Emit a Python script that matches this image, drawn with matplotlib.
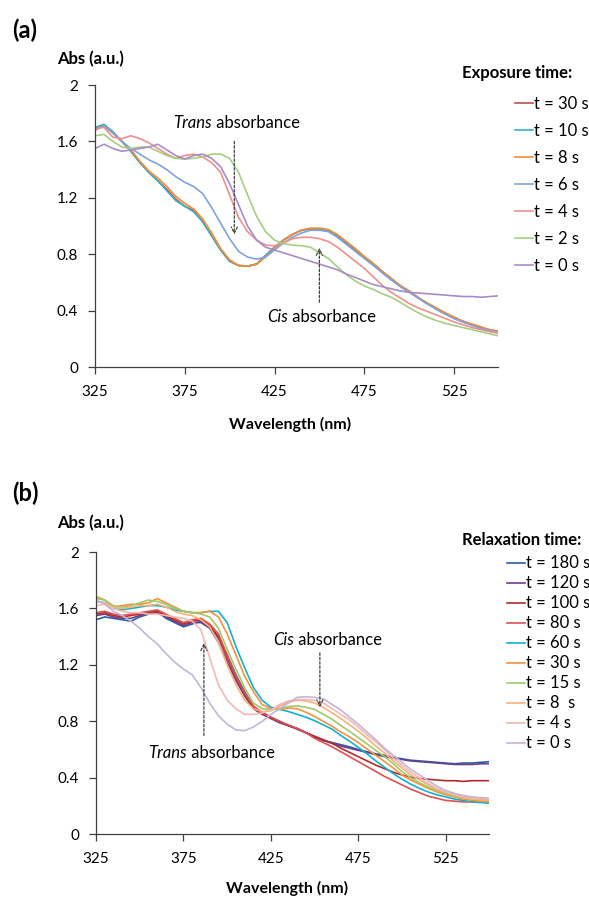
import matplotlib
matplotlib.use("Agg")
import matplotlib.pyplot as plt

plt.rcParams['font.family'] = ['Lato', 'DejaVu Sans']
plt.rcParams['font.size'] = 11

# --- Wellenlaengen-Raster (nm) ---
wl = [325, 330, 335, 340, 345, 350, 355, 360, 365, 370,
      375, 380, 385, 390, 395, 400, 405, 410, 415, 420,
      425, 430, 435, 440, 445, 450, 455, 460, 465, 470,
      475, 480, 485, 490, 495, 500, 505, 510, 515, 520,
      525, 530, 535, 540, 545, 550]

# --- (a) Belichtungszeit ---
a_labels = ['t = 30 s', 't = 10 s', 't = 8 s', 't = 6 s', 't = 4 s', 't = 2 s', 't = 0 s']
a_30 = [1.69, 1.72, 1.66, 1.60, 1.53, 1.45, 1.38, 1.32, 1.26, 1.19,
        1.14, 1.11, 1.03, 0.93, 0.83, 0.75, 0.72, 0.715, 0.73, 0.79,
        0.85, 0.90, 0.94, 0.97, 0.98, 0.98, 0.97, 0.93, 0.88, 0.83,
        0.78, 0.73, 0.67, 0.62, 0.575, 0.535, 0.49, 0.45, 0.415, 0.38,
        0.345, 0.32, 0.30, 0.275, 0.26, 0.25]
a_10 = [1.70, 1.72, 1.67, 1.60, 1.53, 1.45, 1.38, 1.32, 1.25, 1.18,
        1.14, 1.10, 1.03, 0.93, 0.83, 0.75, 0.72, 0.715, 0.73, 0.79,
        0.85, 0.90, 0.94, 0.97, 0.98, 0.98, 0.97, 0.935, 0.885, 0.835,
        0.78, 0.73, 0.675, 0.62, 0.575, 0.535, 0.49, 0.45, 0.415, 0.38,
        0.35, 0.325, 0.30, 0.28, 0.26, 0.25]
a_8 = [1.68, 1.71, 1.66, 1.60, 1.54, 1.46, 1.39, 1.34, 1.28, 1.21,
       1.16, 1.12, 1.05, 0.95, 0.84, 0.76, 0.72, 0.715, 0.73, 0.78,
       0.84, 0.90, 0.94, 0.97, 0.985, 0.985, 0.975, 0.94, 0.89, 0.84,
       0.785, 0.735, 0.68, 0.63, 0.58, 0.54, 0.495, 0.455, 0.42, 0.385,
       0.355, 0.325, 0.305, 0.285, 0.265, 0.255]
a_6 = [1.68, 1.71, 1.66, 1.60, 1.55, 1.51, 1.47, 1.44, 1.40, 1.35,
       1.31, 1.28, 1.23, 1.13, 1.02, 0.91, 0.82, 0.78, 0.765, 0.78,
       0.83, 0.88, 0.92, 0.95, 0.97, 0.97, 0.96, 0.92, 0.87, 0.82,
       0.77, 0.72, 0.67, 0.62, 0.57, 0.53, 0.49, 0.45, 0.41, 0.375,
       0.345, 0.32, 0.295, 0.275, 0.26, 0.245]
a_4 = [1.69, 1.70, 1.63, 1.62, 1.64, 1.62, 1.59, 1.55, 1.51, 1.48,
       1.50, 1.51, 1.49, 1.45, 1.38, 1.22, 1.06, 0.96, 0.90, 0.865,
       0.86, 0.88, 0.91, 0.92, 0.92, 0.91, 0.89, 0.85, 0.80, 0.75,
       0.70, 0.64, 0.58, 0.53, 0.49, 0.45, 0.42, 0.395, 0.37, 0.345,
       0.32, 0.30, 0.28, 0.265, 0.25, 0.24]
a_2 = [1.64, 1.65, 1.60, 1.56, 1.55, 1.56, 1.56, 1.53, 1.50, 1.48,
       1.475, 1.48, 1.49, 1.51, 1.51, 1.48, 1.38, 1.22, 1.07, 0.96,
       0.90, 0.875, 0.865, 0.86, 0.85, 0.81, 0.77, 0.71, 0.655, 0.61,
       0.575, 0.55, 0.52, 0.495, 0.46, 0.42, 0.385, 0.355, 0.33, 0.31,
       0.295, 0.28, 0.265, 0.25, 0.235, 0.22]
a_0 = [1.55, 1.58, 1.55, 1.53, 1.54, 1.55, 1.56, 1.58, 1.54, 1.50,
       1.475, 1.50, 1.51, 1.48, 1.42, 1.30, 1.15, 1.00, 0.90, 0.85,
       0.83, 0.81, 0.79, 0.77, 0.75, 0.73, 0.71, 0.69, 0.66, 0.635,
       0.61, 0.585, 0.57, 0.555, 0.54, 0.53, 0.525, 0.52, 0.515, 0.51,
       0.505, 0.50, 0.50, 0.495, 0.50, 0.505]
a_series = [a_30, a_10, a_8, a_6, a_4, a_2, a_0]
a_colors = ['#c0504d', '#31b3cf', '#f7892f', '#7ea3dc', '#ef8f8c', '#a4cf7f', '#a88bc8']

# --- (b) Relaxationszeit ---
b_labels = ['t = 180 s', 't = 120 s', 't = 100 s', 't = 80 s', 't = 60 s',
            't = 30 s', 't = 15 s', 't = 8  s', 't = 4 s', 't = 0 s']
b_180 = [1.52, 1.54, 1.53, 1.52, 1.51, 1.54, 1.56, 1.58, 1.53, 1.50,
         1.47, 1.49, 1.51, 1.47, 1.39, 1.27, 1.13, 1.01, 0.905, 0.865,
         0.83, 0.80, 0.77, 0.75, 0.72, 0.69, 0.665, 0.65, 0.635, 0.62,
         0.60, 0.585, 0.57, 0.56, 0.545, 0.535, 0.525, 0.52, 0.515, 0.51,
         0.505, 0.50, 0.505, 0.505, 0.51, 0.515]
b_120 = [1.55, 1.56, 1.54, 1.53, 1.53, 1.55, 1.57, 1.57, 1.54, 1.51,
         1.48, 1.50, 1.50, 1.46, 1.36, 1.22, 1.09, 0.98, 0.89, 0.85,
         0.82, 0.79, 0.77, 0.745, 0.72, 0.69, 0.665, 0.645, 0.625, 0.61,
         0.595, 0.58, 0.565, 0.55, 0.54, 0.53, 0.52, 0.515, 0.51, 0.505,
         0.50, 0.495, 0.495, 0.495, 0.50, 0.50]
b_100 = [1.56, 1.57, 1.55, 1.54, 1.55, 1.56, 1.57, 1.58, 1.55, 1.52,
         1.49, 1.51, 1.52, 1.48, 1.40, 1.25, 1.11, 0.99, 0.90, 0.855,
         0.825, 0.80, 0.77, 0.75, 0.72, 0.695, 0.67, 0.645, 0.61, 0.58,
         0.55, 0.52, 0.49, 0.465, 0.44, 0.42, 0.405, 0.395, 0.39, 0.385,
         0.38, 0.38, 0.375, 0.38, 0.38, 0.38]
b_80 = [1.57, 1.58, 1.56, 1.55, 1.56, 1.57, 1.58, 1.59, 1.56, 1.53,
        1.50, 1.52, 1.53, 1.49, 1.42, 1.27, 1.12, 1.00, 0.91, 0.86,
        0.83, 0.80, 0.775, 0.75, 0.72, 0.68, 0.65, 0.62, 0.585, 0.55,
        0.515, 0.48, 0.445, 0.41, 0.38, 0.35, 0.32, 0.295, 0.27, 0.255,
        0.24, 0.235, 0.23, 0.23, 0.23, 0.23]
b_60 = [1.65, 1.64, 1.60, 1.59, 1.60, 1.61, 1.62, 1.62, 1.61, 1.59,
        1.58, 1.57, 1.57, 1.58, 1.58, 1.50, 1.33, 1.18, 1.04, 0.95,
        0.90, 0.885, 0.87, 0.85, 0.83, 0.805, 0.775, 0.745, 0.70, 0.66,
        0.615, 0.57, 0.52, 0.475, 0.43, 0.39, 0.355, 0.325, 0.30, 0.28,
        0.265, 0.25, 0.24, 0.23, 0.225, 0.22]
b_30 = [1.685, 1.66, 1.61, 1.62, 1.63, 1.63, 1.64, 1.67, 1.64, 1.61,
        1.58, 1.57, 1.57, 1.58, 1.54, 1.42, 1.27, 1.12, 1.01, 0.92,
        0.89, 0.885, 0.895, 0.89, 0.865, 0.835, 0.80, 0.765, 0.725, 0.69,
        0.65, 0.605, 0.56, 0.515, 0.47, 0.42, 0.385, 0.355, 0.325, 0.30,
        0.28, 0.265, 0.25, 0.24, 0.235, 0.23]
b_15 = [1.67, 1.66, 1.62, 1.61, 1.62, 1.64, 1.66, 1.65, 1.63, 1.60,
        1.58, 1.57, 1.56, 1.54, 1.46, 1.31, 1.17, 1.04, 0.93, 0.89,
        0.885, 0.895, 0.905, 0.91, 0.90, 0.885, 0.85, 0.815, 0.77, 0.73,
        0.685, 0.64, 0.595, 0.55, 0.50, 0.445, 0.40, 0.365, 0.335, 0.31,
        0.29, 0.27, 0.26, 0.25, 0.245, 0.24]
b_8 = [1.65, 1.64, 1.61, 1.60, 1.61, 1.62, 1.62, 1.63, 1.61, 1.58,
       1.56, 1.55, 1.52, 1.47, 1.36, 1.20, 1.06, 0.95, 0.89, 0.87,
       0.875, 0.91, 0.935, 0.95, 0.945, 0.93, 0.90, 0.86, 0.82, 0.775,
       0.73, 0.68, 0.625, 0.575, 0.52, 0.47, 0.42, 0.385, 0.35, 0.32,
       0.295, 0.275, 0.26, 0.25, 0.245, 0.24]
b_4 = [1.62, 1.63, 1.60, 1.58, 1.57, 1.57, 1.56, 1.56, 1.55, 1.54,
       1.53, 1.51, 1.45, 1.25, 1.06, 0.95, 0.89, 0.85, 0.85, 0.86,
       0.88, 0.92, 0.945, 0.955, 0.955, 0.95, 0.93, 0.89, 0.85, 0.81,
       0.76, 0.705, 0.655, 0.60, 0.54, 0.49, 0.44, 0.40, 0.36, 0.325,
       0.30, 0.285, 0.27, 0.26, 0.255, 0.25]
b_0 = [1.66, 1.63, 1.58, 1.55, 1.51, 1.46, 1.40, 1.35, 1.28, 1.22,
       1.17, 1.13, 1.04, 0.93, 0.84, 0.78, 0.74, 0.735, 0.76, 0.80,
       0.85, 0.89, 0.93, 0.97, 0.975, 0.97, 0.96, 0.92, 0.88, 0.83,
       0.78, 0.725, 0.67, 0.61, 0.56, 0.51, 0.46, 0.42, 0.38, 0.34,
       0.31, 0.29, 0.275, 0.265, 0.26, 0.255]
b_series = [b_180, b_120, b_100, b_80, b_60, b_30, b_15, b_8, b_4, b_0]
b_colors = ['#2a5f9e', '#6b3f8f', '#b52a2a', '#e0504f', '#13b0cf',
            '#f7913d', '#9ccb6a', '#f9b07a', '#f3b8b3', '#c3b5d9']

y_ticks = [0, 0.4, 0.8, 1.2, 1.6, 2]
y_ticklabels = ['0', '0.4', '0.8', '1.2', '1.6', '2']
x_ticks = [325, 375, 425, 475, 525]

fig = plt.figure(figsize=(5.89, 8.98), dpi=100)
ax_a = fig.add_axes([0.1613, 0.5913, 0.6842, 0.3140])
ax_b = fig.add_axes([0.1630, 0.0709, 0.6672, 0.3144])


def achse_stylen(ax, xmax):
    ax.set_xlim(325, xmax)
    ax.set_ylim(0, 2)
    ax.set_xticks(x_ticks)
    ax.set_yticks(y_ticks)
    ax.set_yticklabels(y_ticklabels)
    for s in ['top', 'right']:
        ax.spines[s].set_visible(False)
    for s in ['left', 'bottom']:
        ax.spines[s].set_color('#404040')
        ax.spines[s].set_linewidth(0.9)
    ax.tick_params(direction='out', length=5, width=0.9, color='#404040', labelsize=11)
    ax.tick_params(axis='x', pad=8)
    ax.tick_params(axis='y', pad=7)
    ax.set_xlabel('Wavelength (nm)', fontweight='bold', fontsize=11.5)


def pfeil(ax, x, y_von, y_bis):
    # gestrichelter Pfeil fuer die Beschriftung
    ax.annotate('', xy=(x, y_bis), xytext=(x, y_von),
                arrowprops=dict(arrowstyle='->', linestyle=(0, (2, 1.5)), color='#404040', lw=0.9))


def beschriftung(ax, x, y, kursiv):
    ax.text(x, y, kursiv, style='italic', ha='right', va='center', fontsize=12)
    ax.text(x, y, ' absorbance', ha='left', va='center', fontsize=12)


# --- Panel (a) ---
linien_a = []
for werte, farbe, lab in zip(a_series, a_colors, a_labels):
    l, = ax_a.plot(wl, werte, color=farbe, lw=1.2, label=lab)
    linien_a.append(l)
achse_stylen(ax_a, 549.5)
ax_a.xaxis.set_label_coords(0.483, -0.177)

pfeil(ax_a, 402.6, 1.62, 0.92)
beschriftung(ax_a, 390.1, 1.73, 'Trans')
pfeil(ax_a, 450.0, 0.44, 0.865)
beschriftung(ax_a, 432.5, 0.355, 'Cis')

ax_a.legend(handles=linien_a, loc='upper left', bbox_to_anchor=(515 / 589, 1 - 96 / 898),
            bbox_transform=fig.transFigure, frameon=False, fontsize=12,
            handlelength=1.08, handletextpad=0.05, labelspacing=0.66,
            borderpad=0, borderaxespad=0)

# --- Panel (b) ---
linien_b = []
for werte, farbe, lab in zip(b_series, b_colors, b_labels):
    l, = ax_b.plot(wl, werte, color=farbe, lw=1.2, label=lab)
    linien_b.append(l)
achse_stylen(ax_b, 549.7)
ax_b.xaxis.set_label_coords(0.487, -0.165)

pfeil(ax_b, 453.0, 1.305, 0.88)
beschriftung(ax_b, 438.1, 1.376, 'Cis')
pfeil(ax_b, 386.7, 0.68, 1.375)
beschriftung(ax_b, 377.0, 0.573, 'Trans')

ax_b.legend(handles=linien_b, loc='upper left', bbox_to_anchor=(507 / 589, 1 - 555.5 / 898),
            bbox_transform=fig.transFigure, frameon=False, fontsize=12,
            handlelength=1.08, handletextpad=0.05, labelspacing=0.24,
            borderpad=0, borderaxespad=0)

# --- Beschriftungen ---
fig.text(12 / 589, 1 - 30 / 898, '(a)', fontsize=17, fontweight='bold', va='center', ha='left')
fig.text(12 / 589, 1 - 493 / 898, '(b)', fontsize=17, fontweight='bold', va='center', ha='left')
fig.text(57 / 589, 1 - 59 / 898, 'Abs (a.u.)', fontsize=12, fontweight='bold', va='center', ha='left')
fig.text(57 / 589, 1 - 523 / 898, 'Abs (a.u.)', fontsize=12, fontweight='bold', va='center', ha='left')
fig.text(462 / 589, 1 - 73 / 898, 'Exposure time:', fontsize=12, fontweight='bold', va='center', ha='left')
fig.text(462 / 589, 1 - 540 / 898, 'Relaxation time:', fontsize=12, fontweight='bold', va='center', ha='left')

fig.savefig('out.png', dpi=100)
